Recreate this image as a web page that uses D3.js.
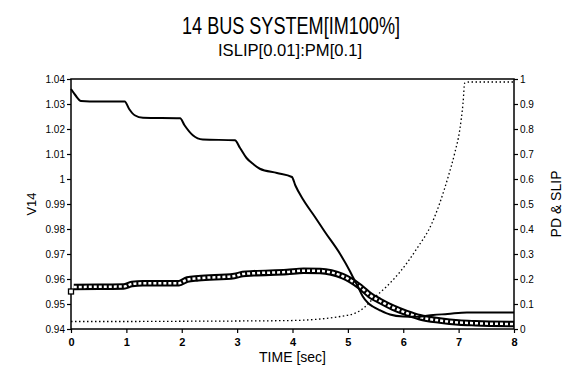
<!DOCTYPE html>
<html>
<head>
<meta charset="utf-8">
<script src="https://cdn.jsdelivr.net/npm/d3@7"></script>
<style>
  html, body { margin: 0; padding: 0; background: #fff; }
  svg { display: block; font-family: "Liberation Sans", Arial, sans-serif; }
</style>
</head>
<body>
<div id="chart"></div>
<script>
// V14 (left axis)
const v14Time = [0, 0.08, 0.18, 0.5, 0.97, 1.05, 1.15, 1.3, 1.97, 2.05, 2.2, 2.38, 2.96, 3.05, 3.17, 3.3, 3.41, 3.72, 3.99, 4.05, 4.2, 4.4, 4.58, 4.86, 5.04, 5.09, 5.18, 5.27, 5.36, 5.45, 5.58, 5.76, 6.0, 6.24, 6.54, 6.8, 7.15, 8];
const v14Val = [1.036, 1.0335, 1.0312, 1.031, 1.031, 1.028, 1.0255, 1.0245, 1.0243, 1.0215, 1.0175, 1.0158, 1.0155, 1.0125, 1.0084, 1.0058, 1.0041, 1.0024, 1.0008, 0.9975, 0.9915, 0.985, 0.979, 0.970, 0.963, 0.9608, 0.957, 0.953, 0.9505, 0.949, 0.9475, 0.9458, 0.945, 0.9449, 0.9456, 0.946, 0.9466, 0.9466];

// PD (right axis, square markers)
const pdTime = [0, 0.05, 0.5, 0.95, 1.1, 1.3, 1.95, 2.1, 2.3, 2.95, 3.1, 3.3, 3.9, 4.2, 4.5, 4.7, 4.9, 5.05, 5.22, 5.4, 5.58, 5.82, 6.06, 6.3, 6.66, 7.0, 7.3, 8];
const pdVal = [0.15, 0.168, 0.169, 0.17, 0.18, 0.183, 0.183, 0.198, 0.203, 0.212, 0.22, 0.223, 0.228, 0.233, 0.232, 0.226, 0.212, 0.195, 0.169, 0.135, 0.112, 0.085, 0.064, 0.047, 0.034, 0.026, 0.023, 0.02];

// SLIP (right axis, dotted)
const slipTime = [0, 1, 2, 3, 4, 4.26, 4.5, 4.86, 5.16, 5.3, 5.45, 5.7, 5.94, 6.24, 6.52, 6.66, 6.81, 6.93, 7.02, 7.08, 7.11, 7.2, 8];
const slipVal = [0.03, 0.03, 0.031, 0.032, 0.034, 0.036, 0.04, 0.05, 0.066, 0.087, 0.12, 0.17, 0.228, 0.32, 0.424, 0.504, 0.608, 0.704, 0.796, 0.904, 0.984, 0.988, 0.988];

const xTicks = [0, 1, 2, 3, 4, 5, 6, 7, 8];
const leftTicks = [0.94, 0.95, 0.96, 0.97, 0.98, 0.99, 1, 1.01, 1.02, 1.03, 1.04];
const rightTicks = [0, 0.1, 0.2, 0.3, 0.4, 0.5, 0.6, 0.7, 0.8, 0.9, 1];

const W = 577, H = 371;
const m = {left: 71, right: 63, top: 79, bottom: 42};
const pw = W - m.left - m.right, ph = H - m.top - m.bottom;

let svg = d3.select('#chart').append('svg').attr('width', W).attr('height', H);

svg.append('text').attr('x', 291).attr('y', 34).attr('text-anchor', 'middle')
  .attr('font-size', 24).attr('textLength', 218).attr('lengthAdjust', 'spacingAndGlyphs')
  .text('14 BUS SYSTEM[IM100%]');
svg.append('text').attr('x', 290).attr('y', 56).attr('text-anchor', 'middle')
  .attr('font-size', 17).attr('textLength', 144).attr('lengthAdjust', 'spacingAndGlyphs')
  .text('ISLIP[0.01]:PM[0.1]');

let x = d3.scaleLinear().domain([0, 8]).range([0, pw]);
let yL = d3.scaleLinear().domain([0.94, 1.04]).range([ph, 0]);
let yR = d3.scaleLinear().domain([0, 1]).range([ph, 0]);

let g = svg.append('g').attr('transform', `translate(${m.left},${m.top})`);

// axes
let axB = g.append('g').attr('transform', `translate(0,${ph})`)
  .call(d3.axisBottom(x).tickValues(xTicks).tickSize(4).tickFormat(d3.format('d')));
let axL = g.append('g').call(d3.axisLeft(yL).tickValues(leftTicks).tickSize(4).tickFormat(d => String(+d.toFixed(2))));
let axR = g.append('g').attr('transform', `translate(${pw},0)`)
  .call(d3.axisRight(yR).tickValues(rightTicks).tickSize(4).tickFormat(d => String(+d.toFixed(1))));
[axB, axL, axR].forEach(a => {
  a.select('.domain').remove();
  a.selectAll('line').attr('stroke', '#000').attr('stroke-width', 1.2);
  a.selectAll('text').attr('font-family', '"Liberation Sans", Arial, sans-serif').attr('fill', '#000');
});
axB.selectAll('text').attr('font-size', 11).attr('font-weight', 'bold').attr('dy', '0.9em');
axL.selectAll('text').attr('font-size', 10).attr('dx', '0.1em');
axR.selectAll('text').attr('font-size', 10).attr('dx', '-0.1em');

g.append('rect').attr('width', pw).attr('height', ph)
  .attr('fill', 'none').attr('stroke', '#000').attr('stroke-width', 1.5);

svg.append('text').attr('transform', `translate(36,${m.top + ph / 2}) rotate(-90)`)
  .attr('text-anchor', 'middle').attr('font-size', 13).text('V14');
svg.append('text').attr('transform', `translate(561,${m.top + ph / 2}) rotate(-90)`)
  .attr('text-anchor', 'middle').attr('font-size', 14).text('PD & SLIP');
svg.append('text').attr('x', m.left + pw / 2).attr('y', 362).attr('text-anchor', 'middle')
  .attr('font-size', 14).text('TIME [sec]');

// series
let toPts = (t, v) => t.map((d, i) => [d, v[i]]);
let lineL = d3.line().x(d => x(d[0])).y(d => yL(d[1])).curve(d3.curveMonotoneX);
let lineR = d3.line().x(d => x(d[0])).y(d => yR(d[1])).curve(d3.curveMonotoneX);

let slipPts = toPts(slipTime, slipVal);
g.append('path').datum(slipPts).attr('d', lineR).attr('fill', 'none')
  .attr('stroke', '#000').attr('stroke-width', 1.3).attr('stroke-dasharray', '1.5,2.5');

// squares band: thick black stroke with white gaps
let pdPts = toPts(pdTime, pdVal);
g.append('path').datum(pdPts.slice(1)).attr('d', lineR).attr('fill', 'none')
  .attr('stroke', '#000').attr('stroke-width', 6.5);
g.append('path').datum(pdPts.slice(1)).attr('d', lineR).attr('fill', 'none')
  .attr('stroke', '#fff').attr('stroke-width', 2.5).attr('stroke-dasharray', '3,2');
g.append('rect').datum(pdPts[0])
  .attr('x', d => x(d[0]) - 2.5).attr('y', d => yR(d[1]) - 2.5)
  .attr('width', 5).attr('height', 5).attr('fill', '#fff').attr('stroke', '#000').attr('stroke-width', 1.3);

let v14Pts = toPts(v14Time, v14Val);
g.append('path').datum(v14Pts).attr('d', lineL).attr('fill', 'none')
  .attr('stroke', '#000').attr('stroke-width', 2);
</script>
</body>
</html>
